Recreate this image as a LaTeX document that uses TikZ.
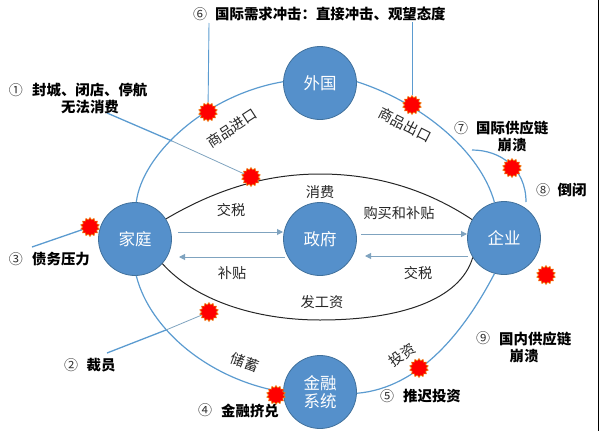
\documentclass[tikz,border=0pt]{standalone}
\usepackage{fontspec}
\setmainfont{Noto Sans CJK SC}
\usetikzlibrary{shapes.geometric,arrows.meta}
\definecolor{cblue}{HTML}{5590CB}
\definecolor{cedge}{HTML}{41719C}
\definecolor{lblue}{HTML}{5B9BD0}
\definecolor{agrey}{HTML}{7FA3BF}
\tikzset{
 x=1pt,y=-1pt,
 hub/.style={circle,fill=cblue,draw=cedge,line width=0.8pt,minimum size=73pt,inner sep=0pt,text=white,font=\fontsize{16.5}{19}\selectfont,align=center},
 burst/.style={star,star points=14,star point ratio=1.28,minimum size=19pt,inner sep=0pt,fill=red,draw=orange!75!brown,line width=0.6pt},
 lab/.style={inner sep=0pt,font=\fontsize{14.2}{16}\selectfont,text=black!85},
 blab/.style={inner sep=0pt,font=\bfseries\fontsize{14.4}{17}\selectfont,align=center},
 num/.style={inner sep=0pt,font=\fontsize{14}{16}\selectfont,text=black!80},
 flow/.style={draw=lblue,line width=1.2pt},
 inner/.style={draw=black!85,line width=1pt},
 thick lead/.style={draw=lblue,line width=1.3pt},
 thin lead/.style={draw=agrey,line width=0.8pt},
 money/.style={draw=agrey,line width=1pt,-{Triangle[length=6pt,width=6pt]}},
}
\begin{document}
\begin{tikzpicture}
\path[use as bounding box] (0,0) rectangle (600,431);
\draw[black,line width=0.8pt] (598,0) -- (598,431);
% hubs
\node[hub] (wg) at (320,83) {外国};
\node[hub] (jt) at (135,239) {家庭};
\node[hub] (zf) at (320,239) {政府};
\node[hub] (qy) at (504,238) {企业};
\node[hub] (jr) at (320,392) {金融\\[-1pt]系统};
% coordinates for free ends
\coordinate (l1) at (107,113); \coordinate (l1m) at (172,141);
\coordinate (l2) at (107,353); \coordinate (l2m) at (166,330);
\coordinate (l3) at (32,247);
\coordinate (l6) at (209,23);
\coordinate (l6b) at (412,22);
\coordinate (a7) at (472,150);
\coordinate (a7e) at (526,202);
% outer arcs
\draw[flow] (jt.88) .. controls (142,155) and (205,95) .. (wg.178);
\draw[flow] (wg.2) .. controls (420,102) and (480,150) .. (qy.105);
\draw[flow] (jt.-88) .. controls (150,330) and (210,380) .. (jr.180);
\draw[flow] (jr.-2) .. controls (420,388) and (465,330) .. (qy.-105);
\draw[flow] (a7) .. controls (500,150) and (526,168) .. (a7e);
% inner arcs
\draw[inner] (jt.33) .. controls (215,190) and (265,174) .. (320,174) .. controls (385,174) and (435,195) .. (qy.150);
\draw[inner] (jt.-42) .. controls (195,300) and (255,320) .. (320,320) .. controls (400,320) and (460,300) .. (qy.-148);
% money arrows
\coordinate (m1a) at (178,232); \coordinate (m1b) at (283,232);
\draw[money] (m1a) -- (m1b);
\coordinate (m2a) at (285,257); \coordinate (m2b) at (179,257);
\draw[money] (m2a) -- (m2b);
\coordinate (m3a) at (361,234); \coordinate (m3b) at (467,234);
\draw[money] (m3a) -- (m3b);
\coordinate (m4a) at (468,256); \coordinate (m4b) at (365,256);
\draw[money] (m4a) -- (m4b);
% bursts
\node[burst] (b6) at (208,112) {};
\node[burst] (b1) at (251,177) {};
\node[burst] (b6b) at (412,105) {};
\node[burst] (b7) at (512,168) {};
\node[burst] (b9) at (546,275) {};
\node[burst] (b3) at (90,227) {};
\node[burst] (b2) at (209,312) {};
\node[burst] (b4) at (276,395) {};
\node[burst] (b5) at (419,368) {};
% leader lines
\draw[thick lead] (l1) -- (l1m);
\draw[thin lead] (l1m) -- (b1);
\draw[thick lead] (l2) -- (l2m);
\draw[thin lead] (l2m) -- (b2);
\draw[thick lead] (l3) -- (b3);
\draw[draw=lblue,line width=0.9pt] (l6) -- (b6);
\draw[draw=lblue,line width=0.9pt] (l6b) -- (b6b);
% flow labels
\node[lab,rotate=33] (t1) at (232,128) {商品进口};
\node[lab,rotate=-27] (t2) at (405,125) {商品出口};
\node[lab] (t3) at (320,192) {消费};
\node[lab] (t4) at (231,210) {交税};
\node[lab] (t5) at (399,213) {购买和补贴};
\node[lab] (t6) at (232,273) {补贴};
\node[lab] (t7) at (418,273) {交税};
\node[lab] (t8) at (322,302) {发工资};
\node[lab,rotate=-20] (t9) at (245,362) {储蓄};
\node[lab,rotate=36] (t10) at (402,355) {投资};
% numbered labels
\node[num] (n6) at (200,14) {⑥};
\node[blab,anchor=west] (c6) at (215,14) {国际需求冲击：直接冲击、观望态度};
\node[num] (n1) at (16,90) {①};
\node[blab,anchor=west] (c1) at (32,90) {封城、闭店、停航};
\node[blab] (c1b) at (90,107) {无法消费};
\node[num] (n7) at (461,128) {⑦};
\node[blab,anchor=west] (c7) at (476,128) {国际供应链};
\node[blab] (c7b) at (512,145) {崩溃};
\node[num] (n8) at (543,190) {⑧};
\node[blab] (c8) at (572,190) {倒闭};
\node[num] (n9) at (483,338) {⑨};
\node[blab,anchor=west] (c9) at (499,339) {国内供应链};
\node[blab] (c9b) at (524,356) {崩溃};
\node[num] (n3) at (16,259) {③};
\node[blab,anchor=west] (c3) at (32,259) {债务压力};
\node[num] (n2) at (71,365) {②};
\node[blab] (c2) at (101,365) {裁员};
\node[num] (n4) at (205,410) {④};
\node[blab,anchor=west] (c4) at (221,411) {金融挤兑};
\node[num] (n5) at (387,396) {⑤};
\node[blab,anchor=west] (c5) at (403,396) {推迟投资};
\end{tikzpicture}
\end{document}
